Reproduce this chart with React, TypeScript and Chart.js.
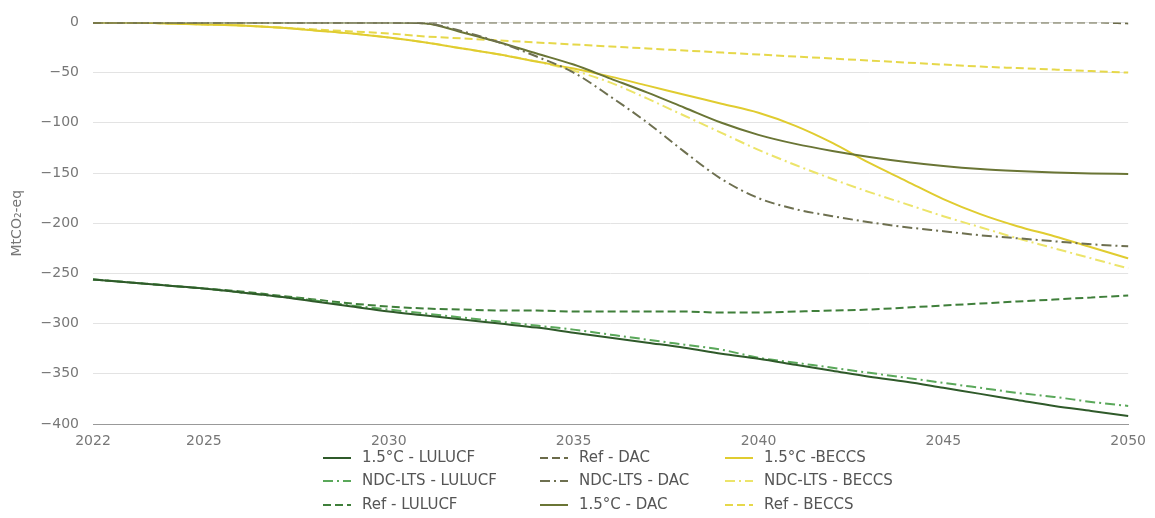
import React, { useEffect, useRef } from "react";
import { Chart, registerables } from "chart.js";

Chart.register(...registerables);

const YEARS = [2022, 2023, 2024, 2025, 2026, 2027, 2028, 2029, 2030, 2031, 2032, 2033, 2034, 2035, 2036, 2037, 2038, 2039, 2040, 2041, 2042, 2043, 2044, 2045, 2046, 2047, 2048, 2049, 2050];

const LULUCF_15 = [-256, -259, -262, -265, -269, -273, -278, -283, -288, -292, -296, -300, -304, -309, -314, -319, -324, -330, -335, -341, -347, -353, -358, -364, -370, -376, -382, -387, -392];
const LULUCF_NDC = [-256, -259, -262, -265, -269, -273, -277, -282, -286, -290, -294, -298, -302, -306, -311, -316, -321, -326, -334, -339, -344, -349, -354, -359, -364, -369, -373, -378, -382];
const LULUCF_REF = [-256, -259, -262, -265, -268, -272, -276, -280, -283, -285, -286, -287, -287, -288, -288, -288, -288, -289, -289, -288, -287, -286, -284, -282, -280, -278, -276, -274, -272];

const DAC_REF = [0, 0, 0, 0, 0, 0, 0, 0, 0, 0, 0, 0, 0, 0, 0, 0, 0, 0, 0, 0, 0, 0, 0, 0, 0, 0, 0, 0, -1];
const DAC_NDC = [0, 0, 0, 0, 0, 0, 0, 0, 0, -1, -9, -20, -34, -50, -74, -100, -129, -156, -175, -186, -193, -199, -204, -208, -212, -215, -218, -221, -223];
const DAC_15 = [0, 0, 0, 0, 0, 0, 0, 0, 0, -1, -10, -20, -31, -42, -56, -70, -85, -100, -112, -121, -128, -134, -139, -143, -146, -148, -149.5, -150.5, -151];

const BECCS_15 = [0, 0, -1, -2, -3, -5, -8, -11, -15, -20, -26, -32, -39, -46, -54, -63, -72, -81, -90, -103, -120, -140, -158, -176, -191, -203, -213, -224, -235];
const BECCS_NDC = [0, 0, -1, -2, -3, -5, -8, -11, -15, -20, -26, -32, -39, -48, -60, -76, -93, -110, -127, -142, -156, -169, -181, -193, -204, -215, -225, -235, -245];
const BECCS_REF = [0, 0, -1, -2, -3, -5, -7, -9, -11, -14, -16, -18, -20, -22, -24, -26, -28, -30, -32, -34, -36, -38, -40, -42, -44, -45.5, -47, -48.5, -50];

const Y_TICKS = [0, -50, -100, -150, -200, -250, -300, -350, -400];
const X_TICK_YEARS = [2022, 2025, 2030, 2035, 2040, 2045, 2050];

const FONT = "'DejaVu Sans', sans-serif";
const SOLID: number[] = [];
const DASH = [8, 4];
const DASHDOT = [10, 4, 2, 4];

const LEGEND_COL_X = [323, 540, 725];
const LEGEND_ROW_Y = [458, 481, 505];

const gridLegend = {
  id: "gridLegend",
  afterDraw(chart: any) {
    const ctx = chart.ctx;
    ctx.save();
    ctx.font = `15px ${FONT}`;
    ctx.textBaseline = "middle";
    ctx.textAlign = "left";
    chart.data.datasets.forEach((ds: any, i: number) => {
      const col = Math.floor(i / 3);
      const row = i % 3;
      const x = LEGEND_COL_X[col];
      const y = LEGEND_ROW_Y[row];
      ctx.strokeStyle = ds.borderColor;
      ctx.lineWidth = 2;
      ctx.setLineDash(ds.borderDash || []);
      ctx.beginPath();
      ctx.moveTo(x, y);
      ctx.lineTo(x + 28, y);
      ctx.stroke();
      ctx.setLineDash([]);
      ctx.fillStyle = "#555";
      ctx.fillText(ds.label, x + 39, y);
    });
    ctx.restore();
  },
};

function ds(label: string, data: number[], color: string, dash: number[]) {
  return {
    label,
    data,
    borderColor: color,
    backgroundColor: color,
    borderDash: dash,
    borderWidth: 2,
    pointRadius: 0,
    fill: false,
    cubicInterpolationMode: "monotone" as const,
  };
}

export default function App() {
  const ref = useRef<HTMLCanvasElement>(null);
  useEffect(() => {
    document.body.style.margin = "0";
    const chart = new Chart(ref.current as HTMLCanvasElement, {
      type: "line",
      data: {
        labels: YEARS.map(String),
        datasets: [
          ds("1.5°C - LULUCF", LULUCF_15, "#2f5a2a", SOLID),
          ds("NDC-LTS - LULUCF", LULUCF_NDC, "#5aa85a", DASHDOT),
          ds("Ref - LULUCF", LULUCF_REF, "#3f7f3a", DASH),
          ds("Ref - DAC", DAC_REF, "#6b6b4a", DASH),
          ds("NDC-LTS - DAC", DAC_NDC, "#6e7050", DASHDOT),
          ds("1.5°C - DAC", DAC_15, "#6a7535", SOLID),
          ds("1.5°C -BECCS", BECCS_15, "#e0cc30", SOLID),
          ds("NDC-LTS - BECCS", BECCS_NDC, "#ece46a", DASHDOT),
          ds("Ref - BECCS", BECCS_REF, "#e6d84a", DASH),
        ],
      },
      options: {
        responsive: false,
        animation: false,
        layout: { padding: { top: 19, right: 25, bottom: 70, left: 0 } },
        plugins: { legend: { display: false }, tooltip: { enabled: false } },
        scales: {
          x: {
            type: "category",
            grid: { display: false, drawTicks: false },
            border: { display: true, color: "#999", width: 1 },
            ticks: {
              autoSkip: false,
              maxRotation: 0,
              minRotation: 0,
              padding: 9,
              color: "#777",
              font: { family: FONT, size: 14 },
              callback: (_v: any, i: number) =>
                X_TICK_YEARS.includes(YEARS[i]) ? String(YEARS[i]) : "",
            },
            afterFit: (s: any) => {
              s.height = 24;
            },
          },
          y: {
            min: Y_TICKS[Y_TICKS.length - 1],
            max: Y_TICKS[0],
            grid: { color: "#e3e3e3", drawTicks: false },
            border: { display: false },
            ticks: {
              stepSize: 50,
              padding: 14,
              color: "#777",
              font: { family: FONT, size: 14 },
              callback: (v: any) => String(v).replace("-", "\u2212"),
            },
            title: {
              display: true,
              text: "MtCO₂-eq",
              color: "#777",
              font: { family: FONT, size: 14 },
              padding: { top: 9, bottom: 0 },
            },
            afterFit: (s: any) => {
              s.width = 93;
            },
          },
        },
      },
      plugins: [gridLegend],
    });
    return () => chart.destroy();
  }, []);
  return (
    <div style={{ position: "fixed", left: 0, top: 0, width: 1155, height: 518, background: "#fff" }}>
      <canvas ref={ref} width={1155} height={518} style={{ display: "block" }} />
    </div>
  );
}
